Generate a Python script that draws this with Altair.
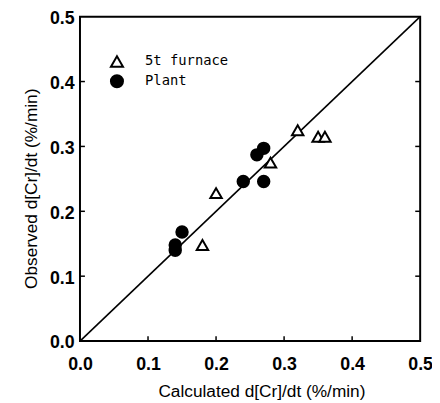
import altair as alt
import pandas as pd

# data
furnace_x = [0.32, 0.35, 0.36, 0.28, 0.20, 0.18]
furnace_y = [0.325, 0.315, 0.315, 0.275, 0.228, 0.148]
plant_x = [0.27, 0.26, 0.24, 0.27, 0.15, 0.14, 0.14]
plant_y = [0.297, 0.287, 0.246, 0.246, 0.168, 0.148, 0.140]
series_names = ["5t furnace", "Plant"]
line_x = [0.0, 0.5]
line_y = [0.0, 0.5]
tick_values = [0.0, 0.1, 0.2, 0.3, 0.4, 0.5]
inner_ticks = [0.1, 0.2, 0.3, 0.4]

W, H = 345, 329

pts = pd.DataFrame({
    "x": furnace_x + plant_x,
    "y": furnace_y + plant_y,
    "series": [series_names[0]] * len(furnace_x) + [series_names[1]] * len(plant_x),
})
diag = pd.DataFrame({"x": line_x, "y": line_y})
xt = pd.DataFrame({"x": inner_ticks})
yt = pd.DataFrame({"y": inner_ticks})

scale = alt.Scale(domain=[0, 0.5], nice=False, zero=False)

xaxis = alt.Axis(values=tick_values, format=".1f", ticks=False, domain=False, grid=False,
                 labelFont="Liberation Sans", labelFontSize=18, labelFontWeight="bold",
                 labelColor="black", labelPadding=15, labelFlush=False, labelOverlap=False,
                 titleFont="Liberation Sans", titleFontSize=17.5, titleFontWeight="normal",
                 titleColor="black", titleX=184, titleY=56, titleBaseline="alphabetic")
yaxis = alt.Axis(values=tick_values, format=".1f", ticks=False, domain=False, grid=False,
                 labelFont="Liberation Sans", labelFontSize=18, labelFontWeight="bold",
                 labelColor="black", labelPadding=6, labelOffset=2, labelBaseline="middle",
                 labelFlush=False, labelOverlap=False,
                 titleFont="Liberation Sans", titleFontSize=17.5, titleFontWeight="normal",
                 titleColor="black", titleX=-44, titleY=174, titleBaseline="alphabetic")

XT = "Calculated d[Cr]/dt (%/min)"
YT = "Observed d[Cr]/dt (%/min)"

def X(f="x"):
    return alt.X(f"{f}:Q", scale=scale, axis=xaxis, title=XT)

def Y(f="y"):
    return alt.Y(f"{f}:Q", scale=scale, axis=yaxis, title=YT)

legend = alt.Legend(title=None, orient="none", legendX=30, legendY=38,
                    labelFont="DejaVu Sans Mono", labelFontSize=14, labelColor="black",
                    symbolSize=150, symbolStrokeWidth=2, symbolStrokeColor="black",
                    labelOffset=21, rowPadding=0, padding=0)

line = alt.Chart(diag).mark_line(color="black", strokeWidth=1.6).encode(x=X(), y=Y())

points = alt.Chart(pts).mark_point(size=135, strokeWidth=2, opacity=1).encode(
    x=X(), y=Y(),
    shape=alt.Shape("series:N", scale=alt.Scale(domain=series_names, range=["triangle-up", "circle"]), legend=legend),
    fill=alt.Fill("series:N", scale=alt.Scale(domain=series_names, range=["white", "black"]), legend=legend),
    stroke=alt.Stroke("series:N", scale=alt.Scale(domain=series_names, range=["black", "black"]), legend=legend),
)

bottom_ticks = alt.Chart(xt).mark_rule(color="black", strokeWidth=1.5).encode(
    x=X(), y=alt.value(H), y2=alt.value(H - 5))
left_ticks = alt.Chart(yt).mark_rule(color="black", strokeWidth=1.5).encode(
    y=Y(), x=alt.value(0), x2=alt.value(5))
right_ticks = alt.Chart(yt).mark_rule(color="black", strokeWidth=1.5).encode(
    y=Y(), x=alt.value(W), x2=alt.value(W - 5))

chart = alt.layer(line, bottom_ticks, left_ticks, right_ticks, points).properties(
    width=W, height=H,
    autosize=alt.AutoSizeParams(type="none"),
    padding={"left": 73, "top": 6, "right": 12, "bottom": 58},
    background="white",
).configure_view(stroke="black", strokeWidth=2)

chart.save("out.html", embed_options={"renderer": "svg", "actions": False})
